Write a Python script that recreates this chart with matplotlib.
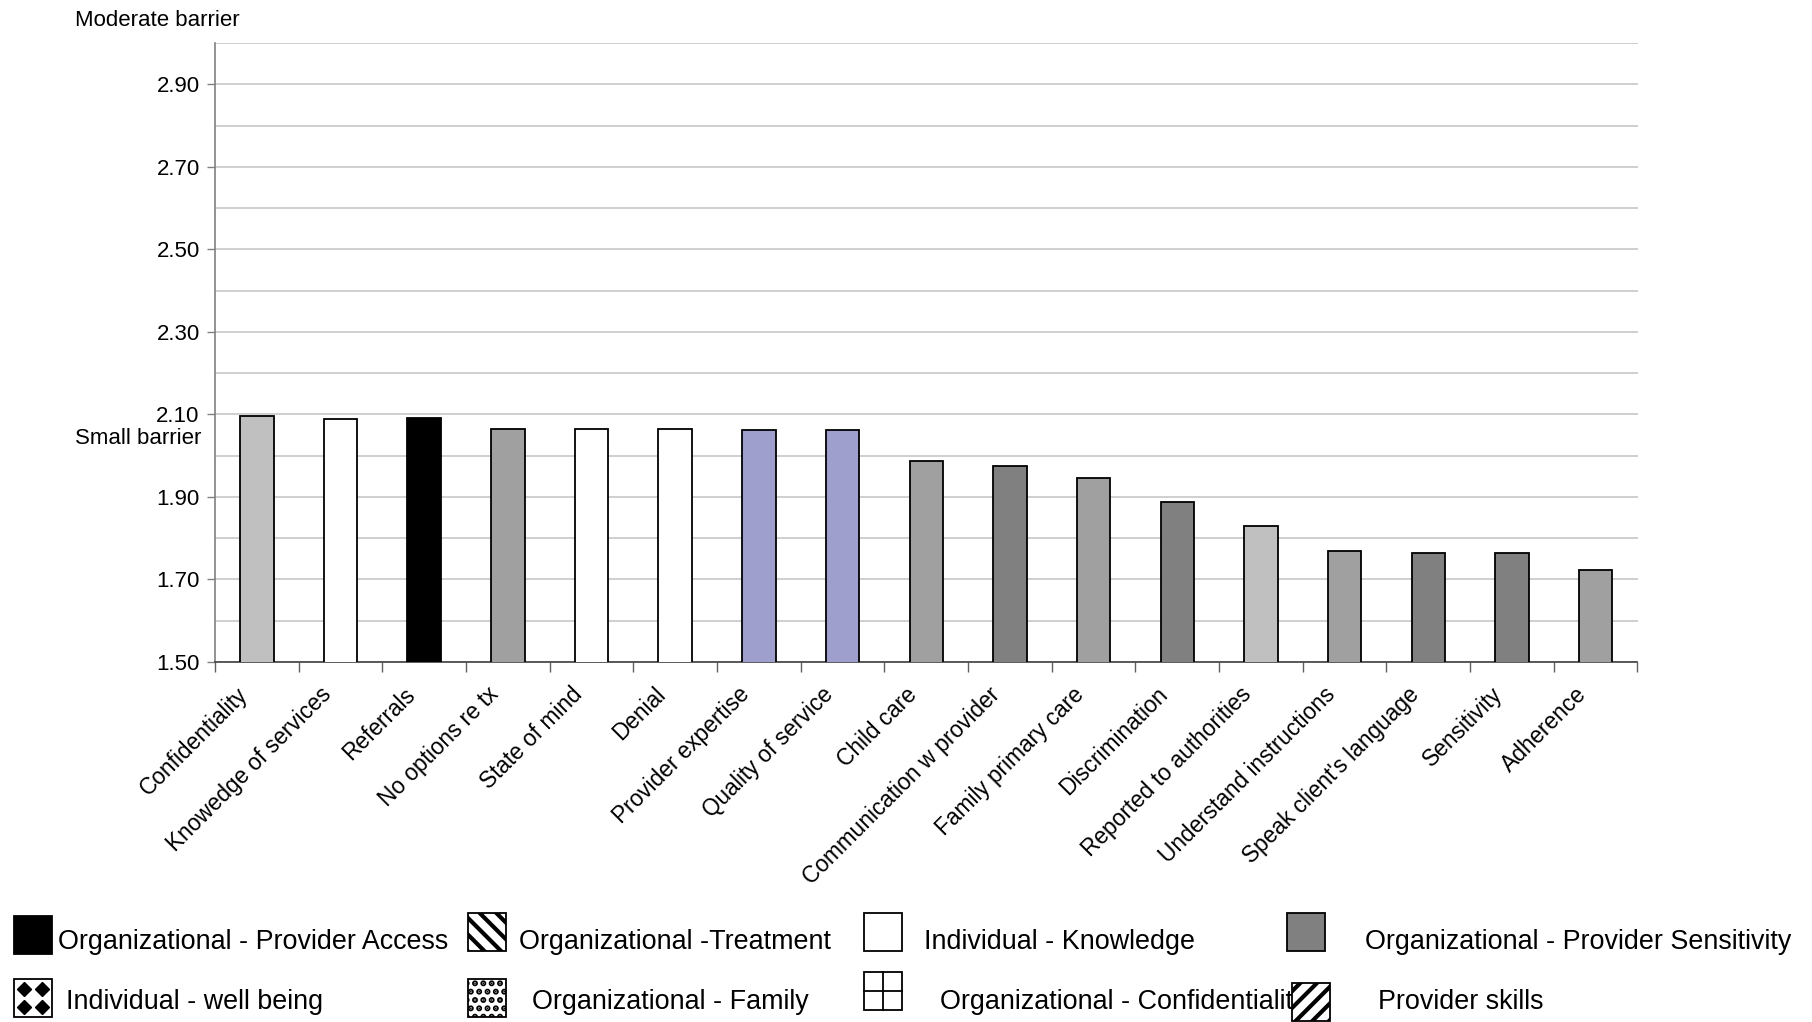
# %%
import matplotlib

matplotlib.use("Agg")
import matplotlib.pyplot as plt
import matplotlib.transforms as mtransforms
from matplotlib.patches import Rectangle
from matplotlib.lines import Line2D
import numpy as np

# %%
# data
categories = [
    "Confidentiality",
    "Knowedge of services",
    "Referrals",
    "No options re tx",
    "State of mind",
    "Denial",
    "Provider expertise",
    "Quality of service",
    "Child care",
    "Communication w provider",
    "Family primary care",
    "Discrimination",
    "Reported to authorities",
    "Understand instructions",
    "Speak client's language",
    "Sensitivity",
    "Adherence",
]
mean_scores = [2.096, 2.090, 2.091, 2.065, 2.065, 2.065, 2.061, 2.061, 1.988,
               1.975, 1.946, 1.888, 1.829, 1.770, 1.763, 1.763, 1.724]
y_tick_values = [1.50, 1.70, 1.90, 2.10, 2.30, 2.50, 2.70, 2.90]

legend_labels = [
    "Organizational - Provider Access",
    "Organizational -Treatment",
    "Individual - Knowledge",
    "Organizational - Provider Sensitivity",
    "Individual - well being",
    "Organizational - Family",
    "Organizational - Confidentiality",
    "Provider skills",
]

# styling
bar_colors = ["#c0c0c0", "white", "black", "#a0a0a0", "white", "white", "#9f9fce", "#9f9fce",
              "#a0a0a0", "#808080", "#a0a0a0", "#808080", "#c0c0c0", "#a0a0a0", "#808080",
              "#808080", "#a0a0a0"]
legend_faces = ["black", "white", "white", "#808080", "white", "white", "white", "white"]
legend_hatches = [None, "\\\\", None, None, "diamonds", "..", "cross", "//"]
# box top-left and text left/centre, in pixels of the 1812x1022 canvas
legend_boxes = [(14, 916), (468, 913), (864, 913), (1287, 913),
                (14, 979), (468, 979), (864, 972), (1292, 983)]
legend_text_pos = [(58, 942), (519, 942), (924, 942), (1365, 942),
                   (66, 1002), (532, 1002), (940, 1002), (1378, 1002)]

W, H = 1812, 1022

plt.rcParams["font.family"] = ["Liberation Sans", "DejaVu Sans"]
plt.rcParams["hatch.linewidth"] = 3.0

# %%
fig = plt.figure(figsize=(W / 100, H / 100), dpi=100)
ax = fig.add_axes([215 / W, 1 - 662 / H, (1637.5 - 215) / W, (662 - 43) / H])

x = np.arange(len(categories))
ax.bar(x, mean_scores, width=0.4, color=bar_colors, edgecolor="black", linewidth=1.3, zorder=3)

ax.set_xlim(-0.5, len(categories) - 0.5)
ax.set_ylim(1.5, 3.0)

ax.set_yticks(y_tick_values)
ax.set_yticklabels([f"{v:.2f}" for v in y_tick_values], fontsize=16)
ax.set_yticks(np.arange(1.6, 3.01, 0.1), minor=True)
ax.tick_params(axis="y", which="major", length=6, width=1, color="#808080", pad=5)
ax.tick_params(axis="y", which="minor", length=0)
ax.yaxis.grid(True, which="both", color="#cccccc", linewidth=1.3)
ax.set_axisbelow(True)

ax.set_xticks(x)
ax.set_xticklabels(categories, fontsize=16.3, rotation=45, ha="right", va="center", rotation_mode="anchor")
ax.set_xticks(np.arange(-0.5, len(categories)), minor=True)
ax.tick_params(axis="x", which="major", length=0, pad=21)
ax.tick_params(axis="x", which="minor", length=7, width=1, color="#606060")
shift = mtransforms.ScaledTranslation(-0.13, 0, fig.dpi_scale_trans)
for lbl in ax.get_xticklabels():
    lbl.set_transform(lbl.get_transform() + shift)

for side in ["top", "right"]:
    ax.spines[side].set_visible(False)
ax.spines["left"].set_color("#808080")
ax.spines["left"].set_linewidth(1.2)
ax.spines["bottom"].set_color("#404040")
ax.spines["bottom"].set_linewidth(1.2)

fig.text(75 / W, 1 - 21 / H, "Moderate barrier", fontsize=16, va="center", ha="left")
fig.text(75 / W, 1 - 439 / H, "Small barrier", fontsize=16, va="center", ha="left")

# %%
# the legend as it appears in the source (loose boxes and texts)
box = 38
for lab, face, hatch, (bx, by), (tx, ty) in zip(legend_labels, legend_faces, legend_hatches,
                                                 legend_boxes, legend_text_pos):
    fig.text(tx / W, 1 - ty / H, lab, fontsize=19.4, va="center", ha="left", zorder=3)
    real_hatch = hatch if hatch in ("\\\\", "//", "..") else None
    fig.add_artist(Rectangle((bx / W, 1 - (by + box) / H), box / W, box / H,
                             transform=fig.transFigure, facecolor=face, edgecolor="black",
                             linewidth=1.3, hatch=real_hatch, zorder=5))
    if hatch == "cross":
        cx, cy = bx + box / 2, by + box / 2
        for xs, ys in [([bx, bx + box], [cy, cy]), ([cx, cx], [by, by + box])]:
            fig.add_artist(Line2D([v / W for v in xs], [1 - v / H for v in ys],
                                  transform=fig.transFigure, color="black", linewidth=1.3, zorder=6))
    if hatch == "diamonds":
        qx = [bx + box * 0.27, bx + box * 0.73]
        qy = [by + box * 0.27, by + box * 0.73]
        for px_ in qx:
            for py_ in qy:
                fig.add_artist(Line2D([px_ / W], [1 - py_ / H], transform=fig.transFigure,
                                      marker="D", markersize=7, color="black", linestyle="none",
                                      zorder=6))

fig.savefig("out.png", dpi=100)
